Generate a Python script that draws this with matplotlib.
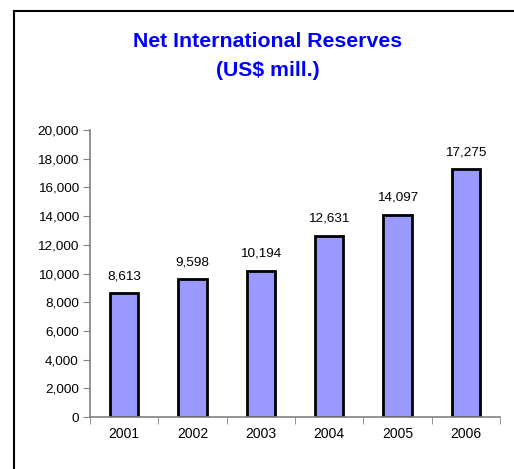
import matplotlib.pyplot as plt
from matplotlib.lines import Line2D

years = ['2001', '2002', '2003', '2004', '2005', '2006']
reserves = [8613, 9598, 10194, 12631, 14097, 17275]
yticks = list(range(0, 20001, 2000))

plt.rcParams['font.family'] = ['Liberation Sans', 'DejaVu Sans']

W, H = 514, 469
fig = plt.figure(figsize=(W / 100, H / 100), dpi=100)
ax = fig.add_axes([90 / W, 1 - 417 / H, 410 / W, 287 / H])

x = range(len(years))
ax.bar(x, reserves, width=0.41, color='#9999FF', edgecolor='black', linewidth=2)
for i, v in zip(x, reserves):
    ax.text(i, v + 750, f'{v:,}', ha='center', va='bottom', fontsize=9.7)

ax.set_xlim(-0.5, len(years) - 0.5)
ax.set_ylim(0, 20000)
ax.set_yticks(yticks)
ax.set_yticklabels([f'{t:,}' for t in yticks], fontsize=9.7)
ax.set_xticks(x)
ax.set_xticklabels(years, fontsize=10)
ax.set_xticks([i - 0.5 for i in range(len(years) + 1)], minor=True)
ax.tick_params(axis='x', which='major', length=0, pad=7)
ax.tick_params(axis='x', which='minor', length=5, color='#808080')
ax.tick_params(axis='y', length=5, color='#808080', pad=3)
for s in ['top', 'right']:
    ax.spines[s].set_visible(False)
for s in ['left', 'bottom']:
    ax.spines[s].set_color('#808080')
    ax.spines[s].set_linewidth(1.2)

fig.text(267.5 / W, 1 - 56 / H, 'Net International Reserves\n(US$ mill.)', ha='center',
         va='center', color='#0000FF', fontsize=15.3, fontweight='bold', linespacing=1.7)

fl, ft = 14 / W, 1 - 11 / H
fig.add_artist(Line2D([fl, 1], [ft, ft], color='black', lw=1.5, transform=fig.transFigure))
fig.add_artist(Line2D([fl, fl], [0, ft], color='black', lw=1.5, transform=fig.transFigure))

fig.savefig('out.png', dpi=100)
